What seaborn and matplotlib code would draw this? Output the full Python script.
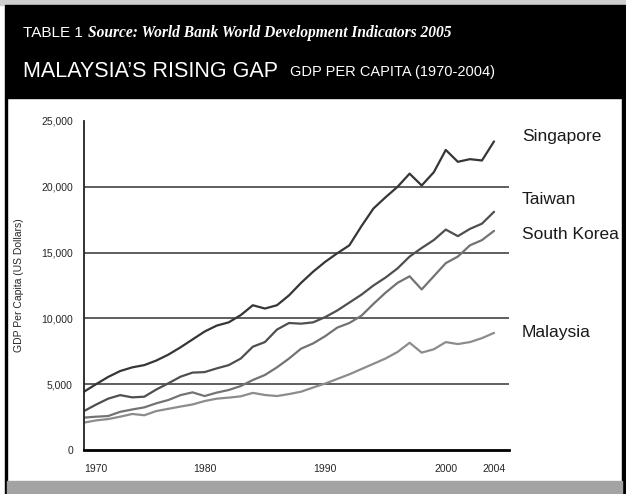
import pandas as pd
import seaborn as sns
import matplotlib.pyplot as plt
from matplotlib.patches import Rectangle

# data (GDP per capita, US$)
years = list(range(1970, 2005))
singapore = [4430, 5000, 5550, 6000, 6280, 6450, 6800, 7250, 7800, 8400,
             9000, 9450, 9700, 10250, 11000, 10750, 11000, 11750, 12700, 13550,
             14300, 14950, 15550, 17000, 18350, 19200, 20000, 21000, 20100, 21100,
             22800, 21900, 22100, 22000, 23450]
taiwan = [2960, 3450, 3900, 4170, 4000, 4050, 4600, 5070, 5570, 5880,
          5920, 6200, 6450, 6950, 7850, 8200, 9150, 9650, 9600, 9700,
          10100, 10600, 11200, 11800, 12500, 13100, 13800, 14700, 15350, 15950,
          16750, 16250, 16800, 17200, 18100]
south_korea = [2460, 2530, 2580, 2900, 3080, 3240, 3550, 3800, 4170, 4380,
               4100, 4360, 4560, 4860, 5320, 5700, 6280, 6950, 7700, 8100,
               8650, 9300, 9650, 10200, 11100, 11950, 12700, 13200, 12200, 13200,
               14200, 14700, 15550, 15950, 16650]
malaysia = [2080, 2250, 2350, 2530, 2740, 2640, 2960, 3130, 3300, 3460,
            3720, 3900, 3980, 4080, 4340, 4180, 4100, 4250, 4430, 4750,
            5050, 5400, 5750, 6150, 6550, 6950, 7450, 8150, 7400, 7650,
            8200, 8050, 8200, 8500, 8900]

countries = ['Singapore', 'Taiwan', 'South Korea', 'Malaysia']
series = [singapore, taiwan, south_korea, malaysia]
label_y = [23800, 19000, 16400, 8900]
colors = {'Singapore': '#363636', 'Taiwan': '#4f4f4f',
          'South Korea': '#737373', 'Malaysia': '#8c8c8c'}
x_labels = [1970, 1980, 1990, 2000, 2004]
y_ticks = [0, 5000, 10000, 15000, 20000, 25000]

df = pd.DataFrame({
    'year': years * len(countries),
    'gdp': [v for s in series for v in s],
    'country': [c for c in countries for _ in years],
})

sns.set_style('white')
plt.rcParams['font.family'] = ['Liberation Sans Narrow', 'Liberation Sans', 'DejaVu Sans']

W, H = 626, 494
fig = plt.figure(figsize=(W / 100, H / 100), dpi=100)
fig.patch.set_facecolor('white')


def px_rect(x0, y0, x1, y1, color):
    # pixel box (top-left origin) -> figure fraction
    fig.patches.append(Rectangle((x0 / W, 1 - y1 / H), (x1 - x0) / W, (y1 - y0) / H,
                                 transform=fig.transFigure, color=color, zorder=0))


px_rect(0, 0, W, 5, '#cfcfcf')
px_rect(5, 5, W, 98, 'black')
px_rect(5, 98, 7, H, 'black')
px_rect(622, 98, W, H, 'black')
px_rect(7, 481, 622, H, '#a3a3a3')


def fig_text(x, y, s, **kw):
    fig.text(x / W, 1 - y / H, s, va='baseline', **kw)


fig_text(23, 37, 'TABLE 1', color='white', fontsize=11)
fig_text(88, 37, 'Source: World Bank World Development Indicators 2005', color='white',
         fontsize=11.2, family='Liberation Serif', fontweight='bold', style='italic')
fig_text(23, 77, 'MALAYSIA\u2019S RISING GAP', color='white', fontsize=15.5)
fig_text(290, 76, 'GDP PER CAPITA (1970-2004)', color='white', fontsize=10.5)

ax = fig.add_axes([84 / W, 44 / H, 424.5 / W, 329 / H])
sns.lineplot(data=df, x='year', y='gdp', hue='country', palette=colors,
             linewidth=1.6, ax=ax, legend=False)

for y in [5000, 10000, 15000, 20000]:
    ax.axhline(y, color='#333333', linewidth=1.1, zorder=0)

ax.set_xlim(1970, 2005.2)
ax.set_ylim(0, 25000)
ax.set_yticks(y_ticks)
ax.set_yticklabels([f'{v:,}' for v in y_ticks], fontsize=7.5)
ax.set_xticks(x_labels)
ax.set_xticklabels([str(v) for v in x_labels], fontsize=7.5)
ax.set_xticks(list(range(1970, 2006)), minor=True)
ax.tick_params(axis='y', direction='out', length=3, width=2, pad=5, color='black')
ax.tick_params(axis='x', which='both', direction='out', length=4, width=2, pad=6,
               color='black')
ax.get_xticklabels()[0].set_ha('left')

for side in ['top', 'right']:
    ax.spines[side].set_visible(False)
ax.spines['left'].set_color('#222222')
ax.spines['left'].set_linewidth(1.3)
ax.spines['bottom'].set_color('black')
ax.spines['bottom'].set_linewidth(2)

ax.set_xlabel('')
ax.set_ylabel('GDP Per Capita (US Dollars)', fontsize=7.5, labelpad=12)

for name, y in zip(countries, label_y):
    ax.text(2006.3, y, name, fontsize=12.5, va='center', ha='left', color='#1a1a1a',
            clip_on=False)

fig.savefig('out.png', dpi=100)
